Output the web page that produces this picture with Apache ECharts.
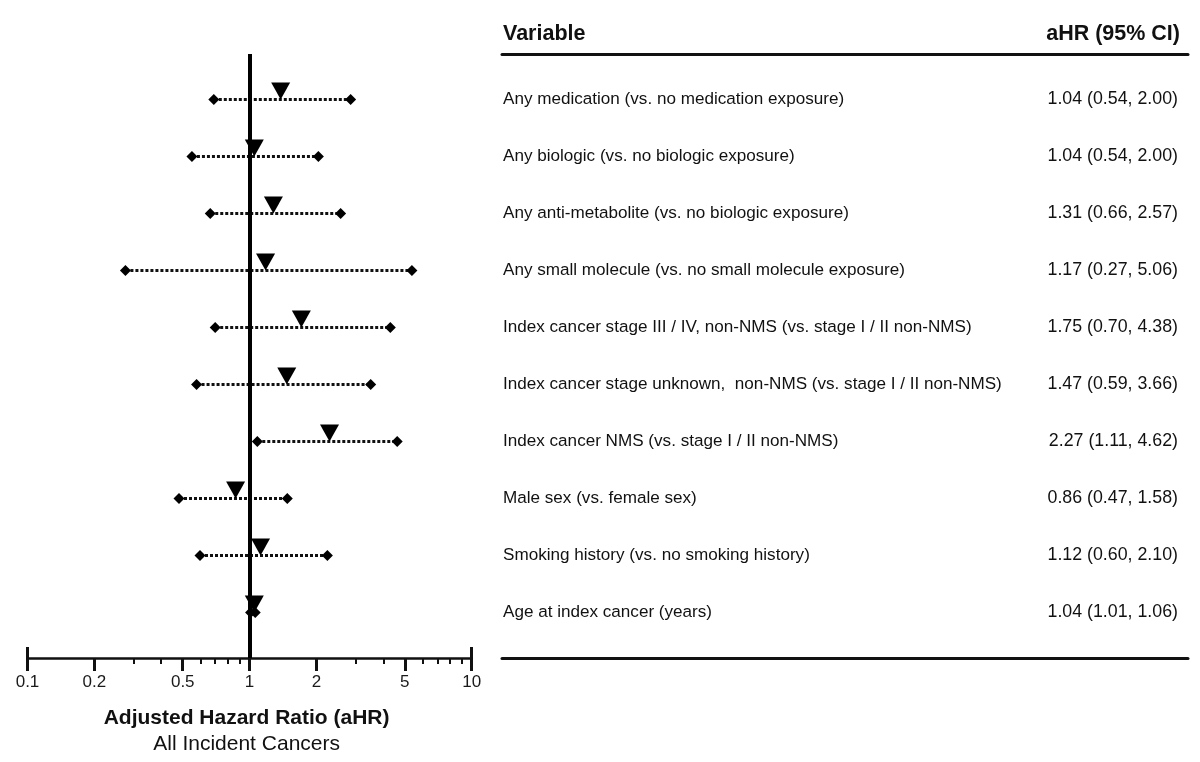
<!DOCTYPE html>
<html><head><meta charset="utf-8">
<script src="https://cdn.jsdelivr.net/npm/echarts@6/dist/echarts.min.js"></script>
<style>html,body{margin:0;padding:0;background:#fff}#c{width:1200px;height:762px}</style>
</head><body><div id="c"></div>
<script>
// ---- data ----
const variables = [
  'Any medication (vs. no medication exposure)',
  'Any biologic (vs. no biologic exposure)',
  'Any anti-metabolite (vs. no biologic exposure)',
  'Any small molecule (vs. no small molecule exposure)',
  'Index cancer stage III / IV, non-NMS (vs. stage I / II non-NMS)',
  'Index cancer stage unknown,  non-NMS (vs. stage I / II non-NMS)',
  'Index cancer NMS (vs. stage I / II non-NMS)',
  'Male sex (vs. female sex)',
  'Smoking history (vs. no smoking history)',
  'Age at index cancer (years)'
];
const aHRText = [
  '1.04 (0.54, 2.00)', '1.04 (0.54, 2.00)', '1.31 (0.66, 2.57)', '1.17 (0.27, 5.06)',
  '1.75 (0.70, 4.38)', '1.47 (0.59, 3.66)', '2.27 (1.11, 4.62)', '0.86 (0.47, 1.58)',
  '1.12 (0.60, 2.10)', '1.04 (1.01, 1.06)'
];
const headers = ['Variable', 'aHR (95% CI)'];
// plotted marker positions
const pointEst = [1.38, 1.05, 1.28, 1.18, 1.71, 1.47, 2.29, 0.865, 1.12, 1.05];
const ciLow    = [0.69, 0.55, 0.665, 0.276, 0.70, 0.577, 1.083, 0.481, 0.598, 1.01];
const ciHigh   = [2.85, 2.04, 2.57, 5.38, 4.30, 3.51, 4.62, 1.478, 2.24, 1.06];
const majorTicks = [0.1, 0.2, 0.5, 1, 2, 5, 10];
const tickLabels = ['0.1', '0.2', '0.5', '1', '2', '5', '10'];
const minorTicks = [0.3, 0.4, 0.6, 0.7, 0.8, 0.9, 3, 4, 6, 7, 8, 9];
const endTicks = [0.1, 10];
const axisTitle = 'Adjusted Hazard Ratio (aHR)';
const axisSubtitle = 'All Incident Cancers';
const refValue = 1;

// ---- chart ----
const ink = '#111';
const FF = 'Liberation Sans, Arial, sans-serif';
const chart = echarts.init(document.getElementById('c'), null, {renderer: 'canvas'});
const rowIdx = variables.map((_, i) => i);
const fmtTick = v => {
  let best = 0;
  majorTicks.forEach((t, i) => { if (Math.abs(Math.log(t) - Math.log(v)) < Math.abs(Math.log(majorTicks[best]) - Math.log(v))) best = i; });
  return tickLabels[best];
};
const logAxisBase = {
  type: 'log', logBase: 10, min: 0.1, max: 10, gridIndex: 0, position: 'bottom',
  splitLine: {show: false}, axisPointer: {show: false}
};
const textPoint = {type: 'scatter', xAxisIndex: 3, yAxisIndex: 1, silent: true, clip: false,
  symbol: 'circle', symbolSize: 0, itemStyle: {color: ink, opacity: 1}};
const option = {
  animation: false,
  backgroundColor: '#fff',
  textStyle: {fontFamily: FF},
  grid: [
    {left: 27.5, right: 728.3, top: 54, height: 604},
    {left: 502, right: 12, top: 54, height: 604}
  ],
  xAxis: [
    Object.assign({}, logAxisBase, {
      axisLine: {show: true, onZero: false, lineStyle: {color: ink, width: 2.5}},
      axisTick: {show: true, customValues: majorTicks, length: 13, lineStyle: {color: ink, width: 3}},
      axisLabel: {show: true, customValues: majorTicks, fontSize: 17, color: '#1a1a1a', margin: 16, formatter: fmtTick},
      name: '{b|' + axisTitle + '}\n{n|' + axisSubtitle + '}',
      nameLocation: 'middle', nameGap: 47,
      nameTextStyle: {padding: [0, 6, 0, 0], rich: {
        b: {fontSize: 21, fontWeight: 'bold', color: ink, lineHeight: 26, fontFamily: FF},
        n: {fontSize: 21, color: ink, lineHeight: 26, fontFamily: FF}
      }}
    }),
    Object.assign({}, logAxisBase, {
      axisLine: {show: false, onZero: false},
      axisTick: {show: true, customValues: minorTicks, length: 6, lineStyle: {color: ink, width: 2}},
      axisLabel: {show: false}
    }),
    Object.assign({}, logAxisBase, {
      axisLine: {show: false, onZero: false},
      axisTick: {show: true, inside: true, customValues: endTicks, length: 11, lineStyle: {color: ink, width: 3}},
      axisLabel: {show: false}
    }),
    {type: 'value', gridIndex: 1, min: 0, max: 1, position: 'top',
      axisLine: {show: true, onZero: false, lineStyle: {color: ink, width: 3}},
      axisTick: {show: false}, axisLabel: {show: false}, splitLine: {show: false}},
    {type: 'value', gridIndex: 1, min: 0, max: 1, position: 'bottom',
      axisLine: {show: true, onZero: false, lineStyle: {color: ink, width: 3}},
      axisTick: {show: false}, axisLabel: {show: false}, splitLine: {show: false}}
  ],
  yAxis: [
    {type: 'value', gridIndex: 0, min: -0.8, max: 9.8, inverse: true, show: false},
    {type: 'value', gridIndex: 1, min: -0.8, max: 9.8, inverse: true, show: false}
  ],
  series: [
    {
      type: 'custom', xAxisIndex: 0, yAxisIndex: 0, silent: true, z: 2,
      data: rowIdx.map(i => [ciLow[i], ciHigh[i], i]),
      encode: {x: [0, 1], y: 2},
      renderItem: (params, api) => {
        const a = api.coord([api.value(0), api.value(2)]);
        const b = api.coord([api.value(1), api.value(2)]);
        return {type: 'line', shape: {x1: a[0], y1: a[1], x2: b[0], y2: b[1]},
          style: {stroke: ink, lineWidth: 3, lineDash: [3, 2]}};
      },
      markLine: {
        silent: true, symbol: 'none', label: {show: false},
        lineStyle: {color: '#000', width: 4, type: 'solid', opacity: 1},
        data: [{xAxis: refValue}]
      }
    },
    {
      type: 'scatter', xAxisIndex: 0, yAxisIndex: 0, silent: true, z: 3,
      symbol: 'diamond', symbolSize: [11, 11], itemStyle: {color: '#000', opacity: 1},
      data: rowIdx.flatMap(i => [[ciLow[i], i], [ciHigh[i], i]])
    },
    {
      type: 'scatter', xAxisIndex: 0, yAxisIndex: 0, silent: true, z: 4,
      symbol: 'path://M0,0L20,0L10,18Z', symbolSize: [19, 17], symbolOffset: [0, -8.5],
      itemStyle: {color: '#000', opacity: 1},
      data: rowIdx.map(i => [pointEst[i], i])
    },
    Object.assign({}, textPoint, {
      data: rowIdx.map(i => [0, i]),
      label: {show: true, position: 'right', distance: 1, color: ink, fontSize: 17.1, fontFamily: FF,
        formatter: p => variables[p.dataIndex]}
    }),
    Object.assign({}, textPoint, {
      data: rowIdx.map(i => [1, i]),
      label: {show: true, position: 'left', distance: 10, color: ink, fontSize: 17.8, fontFamily: FF,
        formatter: p => aHRText[p.dataIndex]}
    }),
    Object.assign({}, textPoint, {
      data: [{value: [0, -1.15], label: {position: 'right', distance: 1}},
             {value: [1, -1.15], label: {position: 'left', distance: 8}}],
      label: {show: true, color: ink, fontSize: 21.5, fontWeight: 'bold', fontFamily: FF,
        formatter: p => headers[p.dataIndex]}
    })
  ]
};
chart.setOption(option);
</script>
</body></html>
